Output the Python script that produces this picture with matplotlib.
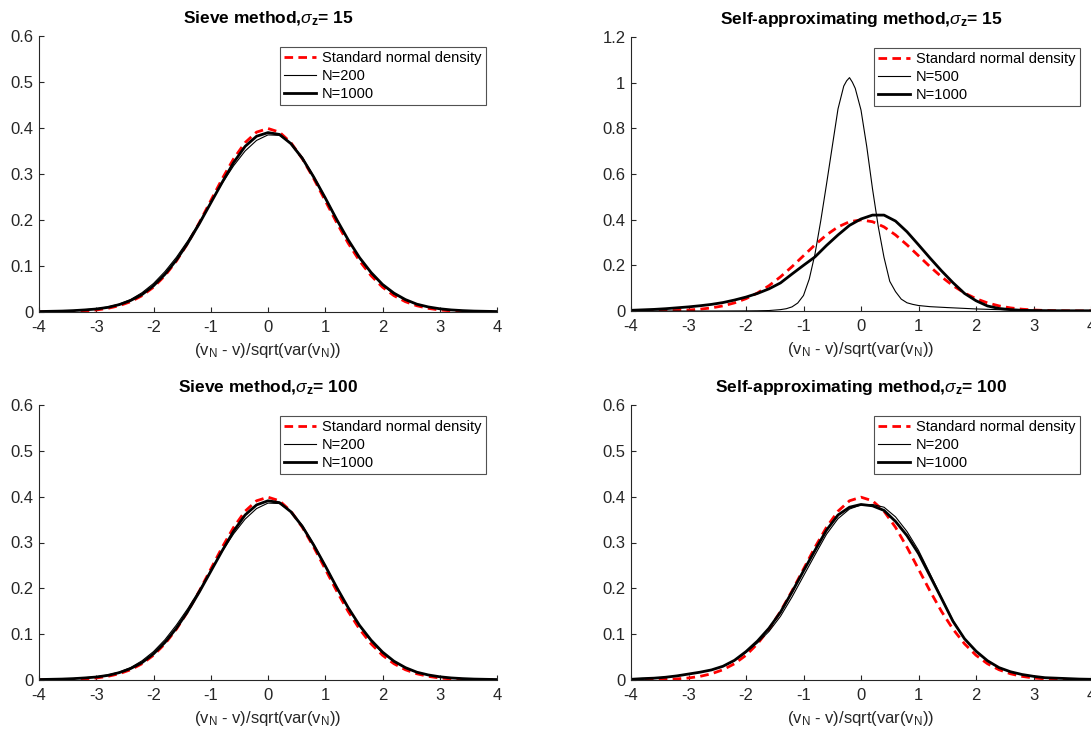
import numpy as np
import matplotlib
matplotlib.use("Agg")
import matplotlib.pyplot as plt

plt.rcParams['font.family'] = ['Liberation Sans', 'DejaVu Sans']
plt.rcParams['mathtext.fontset'] = 'custom'
plt.rcParams['mathtext.rm'] = 'Liberation Sans'
plt.rcParams['mathtext.it'] = 'Liberation Sans:italic'
plt.rcParams['mathtext.bf'] = 'Liberation Sans:bold'

# ---------------- data ----------------
x_grid = np.round(np.linspace(-4, 4, 41), 2)

normal_density = [0.0001, 0.0003, 0.0006, 0.0012, 0.0024, 0.0044, 0.0079, 0.0136, 0.0224, 0.0355,
                  0.0540, 0.0790, 0.1109, 0.1497, 0.1942, 0.2420, 0.2897, 0.3332, 0.3683, 0.3910,
                  0.3989,
                  0.3910, 0.3683, 0.3332, 0.2897, 0.2420, 0.1942, 0.1497, 0.1109, 0.0790, 0.0540,
                  0.0355, 0.0224, 0.0136, 0.0079, 0.0044, 0.0024, 0.0012, 0.0006, 0.0003, 0.0001]

# Sieve method, sigma_z = 15
sieve15_n200 = [0.001, 0.0015, 0.002, 0.003, 0.005, 0.007, 0.011, 0.017, 0.027, 0.042,
                0.062, 0.088, 0.119, 0.155, 0.195, 0.238, 0.280, 0.318, 0.350, 0.373,
                0.385,
                0.384, 0.367, 0.336, 0.295, 0.249, 0.202, 0.157, 0.117, 0.084, 0.058,
                0.039, 0.026, 0.017, 0.011, 0.007, 0.0045, 0.003, 0.002, 0.0015, 0.001]
sieve15_n1000 = [0.001, 0.0015, 0.002, 0.003, 0.0045, 0.0065, 0.010, 0.016, 0.025, 0.038,
                 0.057, 0.082, 0.113, 0.150, 0.192, 0.237, 0.282, 0.325, 0.360, 0.382,
                 0.390,
                 0.386, 0.366, 0.334, 0.293, 0.248, 0.201, 0.157, 0.118, 0.086, 0.060,
                 0.041, 0.027, 0.017, 0.011, 0.007, 0.0045, 0.003, 0.002, 0.0015, 0.001]

# Self-approximating method, sigma_z = 15
selfapp15_n500_x = [-4.0, -3.0, -2.5, -2.0, -1.8, -1.6, -1.5, -1.4, -1.3, -1.2, -1.1, -1.0,
                    -0.9, -0.8, -0.7, -0.6, -0.5, -0.4, -0.3, -0.25, -0.2, -0.15, -0.1, 0.0,
                    0.1, 0.2, 0.3, 0.4, 0.5, 0.6, 0.7, 0.8, 0.9, 1.0, 1.2, 1.5, 2.0, 2.5,
                    3.0, 3.5, 4.0]
selfapp15_n500 = [0.0, 0.0, 0.0, 0.0005, 0.001, 0.002, 0.004, 0.006, 0.010, 0.018, 0.035, 0.068,
                  0.140, 0.250, 0.395, 0.555, 0.720, 0.885, 0.985, 1.008, 1.022, 1.002, 0.975, 0.880,
                  0.720, 0.535, 0.370, 0.235, 0.130, 0.085, 0.052, 0.036, 0.029, 0.024, 0.019, 0.015,
                  0.009, 0.005, 0.003, 0.0015, 0.001]
selfapp15_n1000 = [0.003, 0.005, 0.007, 0.010, 0.014, 0.018, 0.023, 0.029, 0.037, 0.048,
                   0.061, 0.077, 0.097, 0.123, 0.162, 0.200, 0.237, 0.287, 0.333, 0.375,
                   0.403,
                   0.420, 0.420, 0.394, 0.347, 0.290, 0.232, 0.176, 0.124, 0.077, 0.045,
                   0.022, 0.011, 0.006, 0.003, 0.002, 0.0015, 0.0012, 0.001, 0.001, 0.001]

# Sieve method, sigma_z = 100
sieve100_n200 = [0.001, 0.0015, 0.002, 0.003, 0.005, 0.007, 0.011, 0.017, 0.027, 0.042,
                 0.062, 0.088, 0.120, 0.156, 0.196, 0.239, 0.281, 0.319, 0.351, 0.374,
                 0.386,
                 0.385, 0.368, 0.337, 0.296, 0.250, 0.203, 0.158, 0.118, 0.085, 0.059,
                 0.040, 0.026, 0.017, 0.011, 0.007, 0.0045, 0.003, 0.002, 0.0015, 0.001]
sieve100_n1000 = [0.001, 0.0015, 0.002, 0.003, 0.0045, 0.0065, 0.010, 0.016, 0.025, 0.038,
                  0.057, 0.082, 0.113, 0.150, 0.192, 0.237, 0.282, 0.325, 0.360, 0.382,
                  0.391,
                  0.387, 0.367, 0.335, 0.294, 0.249, 0.202, 0.158, 0.119, 0.087, 0.061,
                  0.041, 0.027, 0.017, 0.011, 0.007, 0.0045, 0.003, 0.002, 0.0015, 0.001]

# Self-approximating method, sigma_z = 100
selfapp100_n200 = [0.0015, 0.003, 0.004, 0.006, 0.009, 0.013, 0.017, 0.022, 0.030, 0.042,
                   0.060, 0.081, 0.106, 0.139, 0.181, 0.227, 0.273, 0.318, 0.352, 0.373,
                   0.382,
                   0.383, 0.377, 0.356, 0.324, 0.283, 0.232, 0.180, 0.130, 0.090, 0.062,
                   0.041, 0.027, 0.018, 0.012, 0.008, 0.005, 0.004, 0.003, 0.002, 0.0015]
selfapp100_n1000 = [0.0015, 0.003, 0.004, 0.006, 0.009, 0.013, 0.017, 0.022, 0.030, 0.043,
                    0.062, 0.085, 0.113, 0.148, 0.192, 0.238, 0.283, 0.327, 0.360, 0.377,
                    0.383,
                    0.380, 0.370, 0.346, 0.315, 0.276, 0.227, 0.178, 0.128, 0.090, 0.063,
                    0.042, 0.027, 0.018, 0.012, 0.008, 0.005, 0.004, 0.003, 0.002, 0.0015]

x_ticks = [-4, -3, -2, -1, 0, 1, 2, 3, 4]
x_ticklabels = ['-4', '-3', '-2', '-1', '0', '1', '2', '3', '4']
y_ticks_small = [0, 0.1, 0.2, 0.3, 0.4, 0.5, 0.6]
y_ticklabels_small = ['0', '0.1', '0.2', '0.3', '0.4', '0.5', '0.6']
y_ticks_large = [0, 0.2, 0.4, 0.6, 0.8, 1.0, 1.2]
y_ticklabels_large = ['0', '0.2', '0.4', '0.6', '0.8', '1', '1.2']

titles = [r'Sieve method,$\sigma_{\mathbf{z}}$= 15',
          r'Self-approximating method,$\sigma_{\mathbf{z}}$= 15',
          r'Sieve method,$\sigma_{\mathbf{z}}$= 100',
          r'Self-approximating method,$\sigma_{\mathbf{z}}$= 100']
xlabel_text = r'(v$\mathregular{_N}$ - v)/sqrt(var(v$\mathregular{_N}$))'

# ---------------- figure ----------------
W, H = 1091, 730
fig = plt.figure(figsize=(W / 100, H / 100), dpi=100)
axcol = '#262626'


def make_axes(px_left, px_right, px_top, px_bottom):
    return fig.add_axes([px_left / W, 1 - px_bottom / H,
                         (px_right - px_left) / W, (px_bottom - px_top) / H])


axes = [make_axes(39, 497, 36, 312),
        make_axes(631, 1091, 37, 311),
        make_axes(39, 497, 405, 680),
        make_axes(631, 1091, 405, 680)]

panels = [
    (sieve15_n200, 'N=200', sieve15_n1000, None, y_ticks_small, y_ticklabels_small),
    (selfapp15_n500, 'N=500', selfapp15_n1000, selfapp15_n500_x, y_ticks_large, y_ticklabels_large),
    (sieve100_n200, 'N=200', sieve100_n1000, None, y_ticks_small, y_ticklabels_small),
    (selfapp100_n200, 'N=200', selfapp100_n1000, None, y_ticks_small, y_ticklabels_small),
]

for ax, title, (thin, thin_lab, thick, thin_x, yt, ytl) in zip(axes, titles, panels):
    ax.plot(x_grid, normal_density, color='red', lw=2.0, dashes=(3.1, 1.9),
            label='Standard normal density')
    ax.plot(x_grid if thin_x is None else thin_x, thin, color='black', lw=0.8, label=thin_lab)
    ax.plot(x_grid, thick, color='black', lw=2.0, label='N=1000')
    ax.set_xlim(-4, 4)
    ax.set_ylim(yt[0], yt[-1])
    ax.set_xticks(x_ticks)
    ax.set_xticklabels(x_ticklabels)
    ax.set_yticks(yt)
    ax.set_yticklabels(ytl)
    for s in ['top', 'right']:
        ax.spines[s].set_visible(False)
    for s in ['left', 'bottom']:
        ax.spines[s].set_color(axcol)
        ax.spines[s].set_linewidth(0.8)
    ax.tick_params(direction='in', length=3.3, width=0.8, color=axcol,
                   labelcolor=axcol, labelsize=12)
    ax.tick_params(axis='x', pad=6)
    ax.tick_params(axis='y', pad=4)
    ax.set_title(title, fontsize=12.5, fontweight='bold', pad=9.5)
    ax.set_xlabel(xlabel_text, fontsize=12, color=axcol, labelpad=4)
    pos = ax.get_position()
    bbox_x = (pos.width * W - 11) / (pos.width * W)
    bbox_y = (pos.height * H - 11) / (pos.height * H)
    leg = ax.legend(loc='upper right', bbox_to_anchor=(bbox_x, bbox_y),
                    borderaxespad=0, fontsize=10.5, frameon=True, fancybox=False,
                    edgecolor=axcol, handlelength=2.2, handletextpad=0.4,
                    labelspacing=0.25, borderpad=0.3)
    leg.get_frame().set_linewidth(0.8)
    for t in leg.get_texts():
        t.set_color('black')

fig.savefig('out.png', dpi=100, facecolor='white')
